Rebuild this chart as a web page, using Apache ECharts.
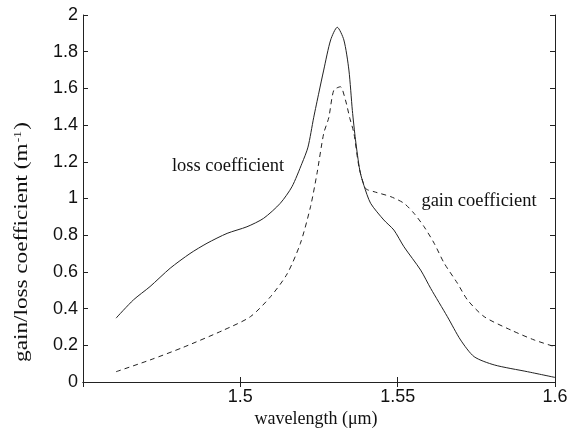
<!DOCTYPE html>
<html>
<head>
<meta charset="utf-8">
<script src="https://cdn.jsdelivr.net/npm/echarts@6/dist/echarts.min.js"></script>
<style>html,body{margin:0;padding:0;background:#fff}#c{width:570px;height:430px}</style>
</head>
<body>
<div id="c"></div>
<script>
// wavelength (um) and loss coefficient (m^-1)
const lossWavelength = [1.4605,1.466,1.4713,1.4777,1.484,1.4894,1.4958,1.5021,1.5074,1.5127,1.5164,1.5196,1.5215,1.5233,1.5250,1.5265,1.5287,1.5308,1.5329,1.5345,1.5356,1.5366,1.5380,1.5393,1.5414,1.5456,1.5488,1.552,1.5573,1.5605,1.5658,1.570,1.5743,1.5807,1.5913,1.6];
const lossValues     = [0.348,0.447,0.52,0.62,0.70,0.756,0.81,0.846,0.892,0.974,1.064,1.192,1.28,1.44,1.58,1.70,1.864,1.933,1.864,1.70,1.48,1.32,1.15,1.07,0.974,0.883,0.828,0.737,0.61,0.51,0.356,0.229,0.138,0.093,0.056,0.025];
// wavelength (um) and gain coefficient (m^-1)
const gainWavelength = [1.4605,1.4713,1.482,1.4947,1.5032,1.5096,1.5149,1.5191,1.5223,1.5244,1.5265,1.5281,1.5297,1.5318,1.5334,1.5348,1.5361,1.5377,1.5398,1.5425,1.5478,1.552,1.5552,1.5584,1.5616,1.5648,1.569,1.5722,1.5775,1.586,1.5934,1.6];
const gainValues     = [0.056,0.12,0.19,0.283,0.356,0.465,0.59,0.756,0.955,1.14,1.355,1.44,1.59,1.609,1.537,1.437,1.355,1.173,1.055,1.037,1.01,0.974,0.919,0.846,0.756,0.647,0.538,0.447,0.356,0.283,0.229,0.192];
const xAxisLabel = 'wavelength (\u03bcm)';
const seriesLabels = ['loss coefficient', 'gain coefficient'];

const lineColor = '#222';
const chart = echarts.init(document.getElementById('c'), null, {renderer: 'canvas'});
const fmtX = v => (Math.abs(v - 1.45) < 1e-6) ? '' : String(+v.toFixed(2));
const axisCommon = {
  axisLine: {show: true, lineStyle: {color: lineColor, width: 1}},
  axisTick: {show: true, inside: true, length: 5, lineStyle: {color: lineColor}},
  splitLine: {show: false}
};
chart.setOption({
  animation: false,
  backgroundColor: '#fff',
  grid: {left: 83, right: 15, top: 15, bottom: 48, containLabel: false, outerBoundsMode: 'none'},
  xAxis: [
    Object.assign({type: 'value', min: 1.45, max: 1.6, interval: 0.05, position: 'bottom',
      axisLabel: {formatter: fmtX, fontFamily: 'Liberation Sans', fontSize: 18, color: '#111', margin: 6}}, axisCommon),
    Object.assign({type: 'value', min: 1.45, max: 1.6, interval: 0.05, position: 'top',
      axisLabel: {show: false}}, axisCommon)
  ],
  yAxis: [
    Object.assign({type: 'value', min: 0, max: 2, interval: 0.2, position: 'left',
      axisLabel: {fontFamily: 'Liberation Sans', fontSize: 18, color: '#111', margin: 5}}, axisCommon),
    Object.assign({type: 'value', min: 0, max: 2, interval: 0.2, position: 'right',
      axisLabel: {show: false}}, axisCommon)
  ],
  series: [
    {name: seriesLabels[0], type: 'line', xAxisIndex: 0, yAxisIndex: 0, showSymbol: false, smooth: 0.25,
     lineStyle: {color: lineColor, width: 1},
     data: lossWavelength.map((w, i) => [w, lossValues[i]])},
    {name: seriesLabels[1], type: 'line', xAxisIndex: 0, yAxisIndex: 0, showSymbol: false, smooth: 0.25,
     lineStyle: {color: lineColor, width: 1, type: [5, 4]},
     data: gainWavelength.map((w, i) => [w, gainValues[i]])}
  ],
  graphic: [
    {type: 'text', x: 316, y: 419,
     style: {text: xAxisLabel, font: '18px "Liberation Serif"', fill: '#111', textAlign: 'center', textVerticalAlign: 'middle'}},
    {type: 'text', x: 22, y: 242, rotation: Math.PI / 2, scaleX: 1.22,
     style: {text: '{a|gain/loss coefficient (m}{s|-1}{a|)}', textAlign: 'center', textVerticalAlign: 'middle',
       rich: {a: {fontFamily: 'Liberation Serif', fontSize: 19, fill: '#111'},
              s: {fontFamily: 'Liberation Serif', fontSize: 11, fill: '#111', verticalAlign: 'top', padding: [0,1,8,1]}}}},
    {type: 'text', x: 228, y: 166,
     style: {text: seriesLabels[0], font: '18.5px "Liberation Serif"', fill: '#111', textAlign: 'center', textVerticalAlign: 'middle'}},
    {type: 'text', x: 479, y: 201,
     style: {text: seriesLabels[1], font: '18.5px "Liberation Serif"', fill: '#111', textAlign: 'center', textVerticalAlign: 'middle'}}
  ]
});
</script>
</body>
</html>
